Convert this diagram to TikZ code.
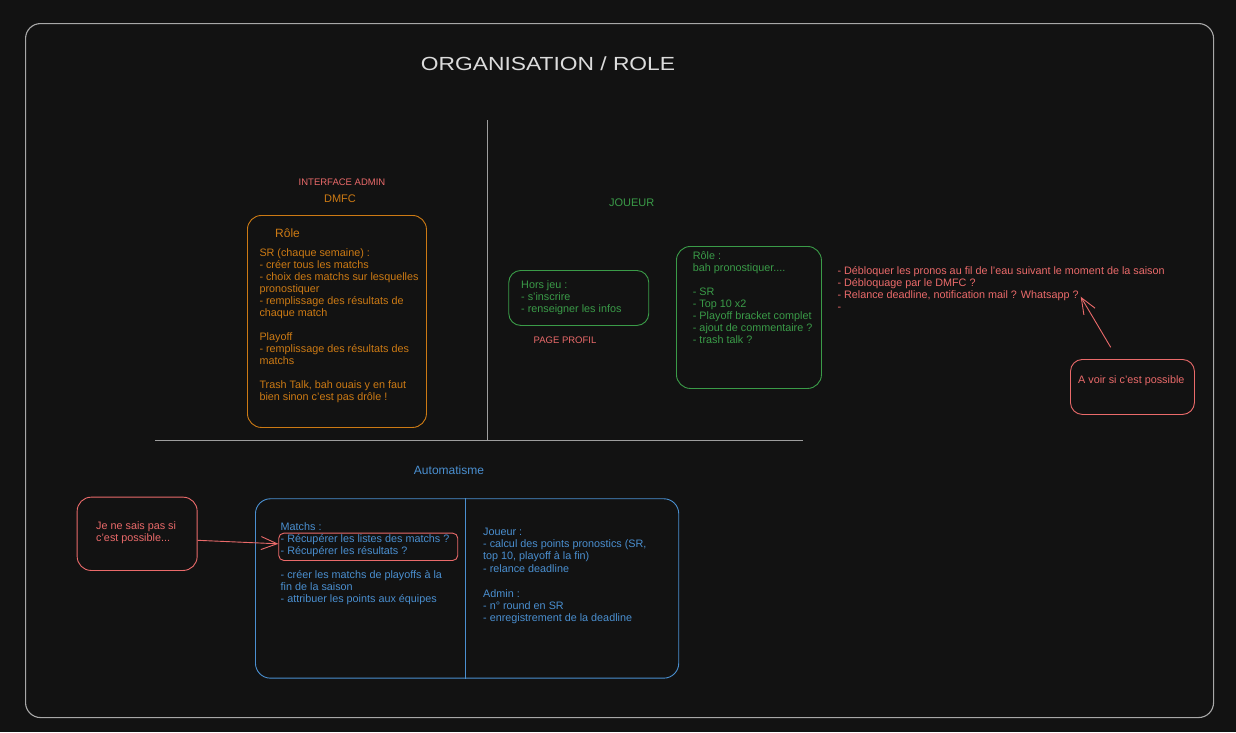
\documentclass[tikz,border=0pt]{standalone}
\usepackage{fontspec}
\setmainfont{Liberation Sans}
\usetikzlibrary{arrows.meta}
\definecolor{bgc}{HTML}{121212}
\definecolor{framec}{HTML}{A8A8A8}
\definecolor{axisc}{HTML}{9E9E9E}
\definecolor{titlec}{HTML}{DCDCDC}
\definecolor{redc}{HTML}{EA6A6A}
\definecolor{orangec}{HTML}{CC7A14}
\definecolor{greenc}{HTML}{3A9B48}
\definecolor{bluec}{HTML}{4A8FD0}
\newcommand{\Blk}[2][12]{\vtop{\fontsize{10.8}{#1}\selectfont\lineskiplimit=-10pt #2}}
\newcommand{\Ln}[1]{\hbox{#1}}
\tikzset{
  txt/.style={inner sep=0pt, anchor=base west, font=\fontsize{10.8}{12}\selectfont},
  lbl/.style={inner sep=0pt, anchor=center},
  boxc/.style={draw, line width=0.9pt, rounded corners=14pt, anchor=north west, inner sep=0pt},
  barb/.style={-{Straight Barb[length=16pt,width=13pt]}, line width=0.9pt},
}
\begin{document}
\begin{tikzpicture}[x=1pt,y=-1pt]
\fill[bgc] (0,0) rectangle (1236,732);
\useasboundingbox (0,0) rectangle (1236,732);

% outer frame
\node[boxc, draw=framec, line width=1.1pt, rounded corners=15pt, minimum width=1188pt, minimum height=694pt] (frame) at (25,23) {};

% title
\node[lbl, text=titlec, font=\fontsize{19}{22}\selectfont] (title) at (548,64) {\scalebox{1.2}[1]{ORGANISATION / ROLE}};

% axes
\draw[axisc, line width=0.9pt] (487,120) -- (487,440);
\draw[axisc, line width=0.9pt] (155,440) -- (803,440);

% admin side
\node[lbl, text=redc, font=\fontsize{9.5}{11}\selectfont] (ifadmin) at (342,182) {INTERFACE ADMIN};
\node[lbl, text=orangec, font=\fontsize{11}{13}\selectfont] (dmfc) at (340,199) {DMFC};
\node[boxc, draw=orangec, minimum width=179pt, minimum height=212pt] (adminbox) at (247,215) {};
\node[txt, text=orangec, font=\fontsize{12}{14}\selectfont] (role1) at (275,237) {Rôle};
\node[txt, text=orangec] (admintxt) at (259.3,256) {\Blk{%
\Ln{SR (chaque semaine) :}%
\Ln{- créer tous les matchs}%
\Ln{- choix des matchs sur lesquelles}%
\Ln{pronostiquer}%
\Ln{- remplissage des résultats de}%
\Ln{chaque match}%
\Ln{}%
\Ln{Playoff}%
\Ln{- remplissage des résultats des}%
\Ln{matchs}%
\Ln{}%
\Ln{Trash Talk, bah ouais y en faut}%
\Ln{bien sinon c'est pas drôle !}}};

% joueur side
\node[lbl, text=greenc, font=\fontsize{11}{13}\selectfont] (joueur) at (631.7,202.3) {JOUEUR};
\node[boxc, draw=greenc, rounded corners=12pt, minimum width=140pt, minimum height=55pt] (horsbox) at (508.3,270) {};
\node[txt, text=greenc] (horstxt) at (521,288) {\Blk{%
\Ln{Hors jeu :}%
\Ln{- s'inscrire}%
\Ln{- renseigner les infos}}};
\node[lbl, text=redc, font=\fontsize{9.5}{11}\selectfont] (profil) at (565,340) {PAGE PROFIL};

\node[boxc, draw=greenc, minimum width=145pt, minimum height=142pt] (rolebox) at (676,246) {};
\node[txt, text=greenc] (roletxt) at (692.7,259.7) {\Blk{%
\Ln{Rôle :}%
\Ln{bah pronostiquer....}%
\Ln{}%
\Ln{- SR}%
\Ln{- Top 10 x2}%
\Ln{- Playoff bracket complet}%
\Ln{- ajout de commentaire ?}%
\Ln{- trash talk ?}}};

% notes in red
\node[txt, text=redc] (notes) at (837.3,274) {\Blk{%
\Ln{- Débloquer les pronos au fil de l'eau suivant le moment de la saison}%
\Ln{- Débloquage par le DMFC ?}%
\Ln{- Relance deadline, notification mail ? Whatsapp ?}%
\Ln{-}}};
\node[boxc, draw=redc, rounded corners=12pt, minimum width=124pt, minimum height=55pt] (avoir) at (1070,359) {};
\node[txt, text=redc] (avoirtxt) at (1078,383) {A voir si c'est possible};
\coordinate (arrAtail) at (1110.7,347.3);
\coordinate (arrAtip) at (1080.7,296.7);
\draw[redc, barb] (arrAtail) -- (arrAtip);

% automatisme
\node[lbl, text=bluec, font=\fontsize{12}{14}\selectfont] (auto) at (449,470) {Automatisme};
\node[boxc, draw=bluec, rounded corners=15pt, minimum width=423.3pt, minimum height=179.4pt] (autobox) at (255,498.3) {};
\coordinate (divx) at (465,0);
\draw[bluec, line width=0.9pt] (autobox.north -| divx) -- (autobox.south -| divx);
\node[boxc, draw=redc, rounded corners=5pt, minimum width=179pt, minimum height=27.3pt] (hl) at (278.3,532.7) {};
\node[txt, text=bluec] (autoleft) at (280.5,530.3) {\Blk{%
\Ln{Matchs :}%
\Ln{- Récupérer les listes des matchs ?}%
\Ln{- Récupérer les résultats ?}%
\Ln{}%
\Ln{- créer les matchs de playoffs à la}%
\Ln{fin de la saison}%
\Ln{- attribuer les points aux équipes}}};
\node[txt, text=bluec] (autoright) at (483,535) {\Blk[12.4]{%
\Ln{Joueur :}%
\Ln{- calcul des points pronostics (SR,}%
\Ln{top 10, playoff à la fin)}%
\Ln{- relance deadline}%
\Ln{}%
\Ln{Admin :}%
\Ln{- n° round en SR}%
\Ln{- enregistrement de la deadline}}};

\node[boxc, draw=redc, rounded corners=14pt, minimum width=120pt, minimum height=73.3pt] (jnsp) at (76.7,496.7) {};
\node[txt, text=redc] (jnsptxt) at (96,529) {\Blk[12.5]{%
\Ln{Je ne sais pas si}%
\Ln{c'est possible...}}};
\draw[redc, barb] ([yshift=-6.5pt]jnsp.east) -- ([yshift=3pt]hl.west);

\end{tikzpicture}
\end{document}
